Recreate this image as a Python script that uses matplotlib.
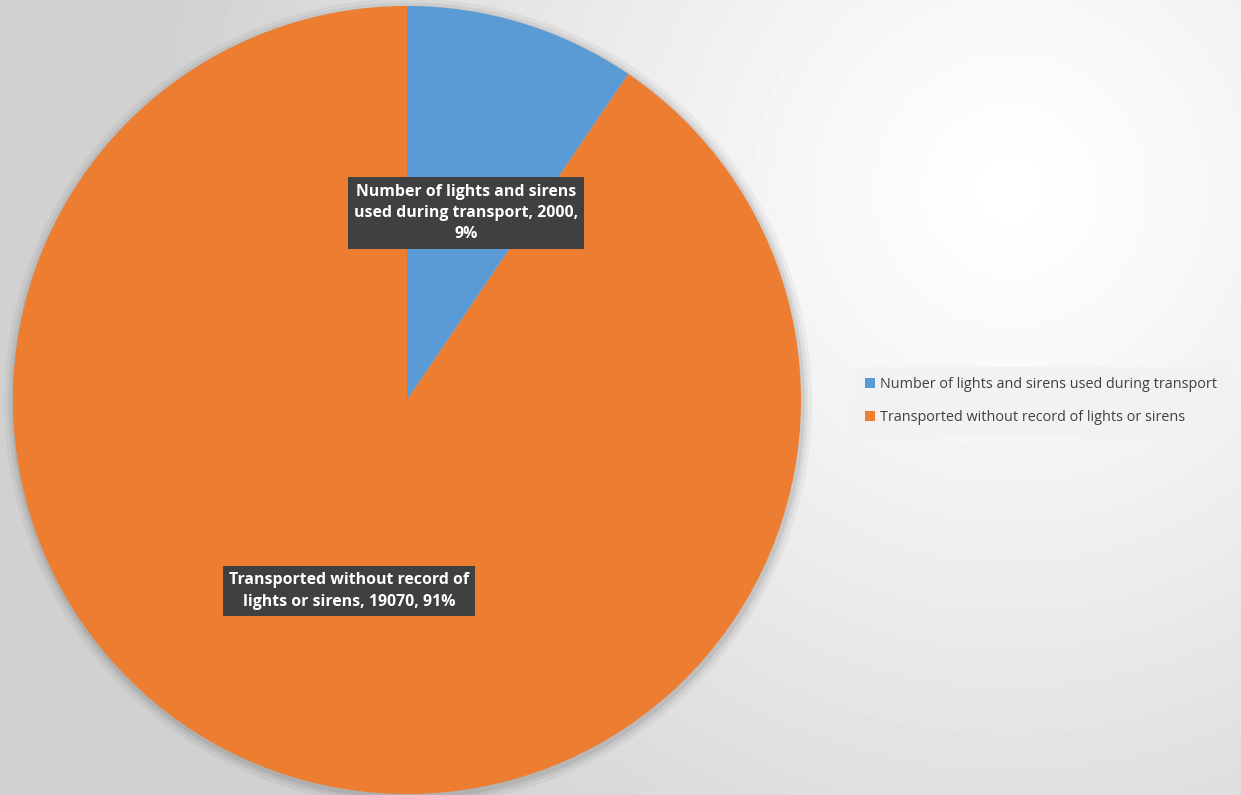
import numpy as np
import matplotlib.pyplot as plt

labels = ['Number of lights and sirens used during transport',
          'Transported without record of lights or sirens']
values = [2000, 19070]
pcts = ['9%', '91%']
colors = ['#5b9bd5', '#ed7d31']

W, H = 1241, 795
fig = plt.figure(figsize=(W / 100, H / 100), dpi=100)

# radial grey-to-white background
bg = fig.add_axes([0, 0, 1, 1])
yy, xx = np.mgrid[0:H, 0:W]
r = np.sqrt((xx - 1010) ** 2 + (yy - 190) ** 2)
shade = 1.0 - 0.18 * np.clip(r / 850, 0, 1) ** 1.2
bg.imshow(shade, cmap='gray', vmin=0, vmax=1, extent=[0, W, H, 0], aspect='auto')
bg.set_axis_off()

# pie axes: centre (407, 400), radius ~394 px
cx, cy, R = 407, 400, 394
ax = fig.add_axes([(cx - R) / W, (H - cy - R) / H, 2 * R / W, 2 * R / H])

# soft shadow round the pie
for k, a in [(1.025, 0.04), (1.015, 0.05), (1.007, 0.07)]:
    ax.add_patch(plt.Circle((0.003, -0.006), k, color='black', alpha=a, lw=0,
                            zorder=0, clip_on=False))

wedges, _ = ax.pie(values, colors=colors, startangle=90, counterclock=False,
                   radius=1, wedgeprops=dict(linewidth=0))
ax.set_xlim(-1, 1)
ax.set_ylim(-1, 1)
ax.set_aspect('equal')
ax.set_axis_off()

font = ['Open Sans', 'DejaVu Sans']
box = dict(boxstyle='square,pad=0.4', facecolor='#404040', edgecolor='none')

def px(x, y):
    return ((x - cx) / R, (cy - y) / R)

t1 = 'Number of lights and sirens\nused during transport, {},\n{}'.format(values[0], pcts[0])
t2 = 'Transported without record of\nlights or sirens, {}, {}'.format(values[1], pcts[1])
ax.text(*px(466, 213), t1, ha='center', va='center', color='white', fontsize=11.4,
        fontweight='bold', family=font, bbox=box, linespacing=1.45)
ax.text(*px(349, 591), t2, ha='center', va='center', color='white', fontsize=11.4,
        fontweight='bold', family=font, bbox=box, linespacing=1.45)

leg = fig.legend(wedges, labels, loc='center left', bbox_to_anchor=(848 / W, 1 - 401 / H),
                 frameon=True, fancybox=False, prop={'family': font, 'size': 10.4},
                 handlelength=0.7, handleheight=0.7, handletextpad=0.3,
                 labelspacing=1.3, borderpad=0.7, labelcolor='#404040')
leg.get_frame().set_facecolor('#f2f2f2')
leg.get_frame().set_edgecolor('none')
leg.get_frame().set_alpha(1)

fig.savefig('out.png', dpi=100)
